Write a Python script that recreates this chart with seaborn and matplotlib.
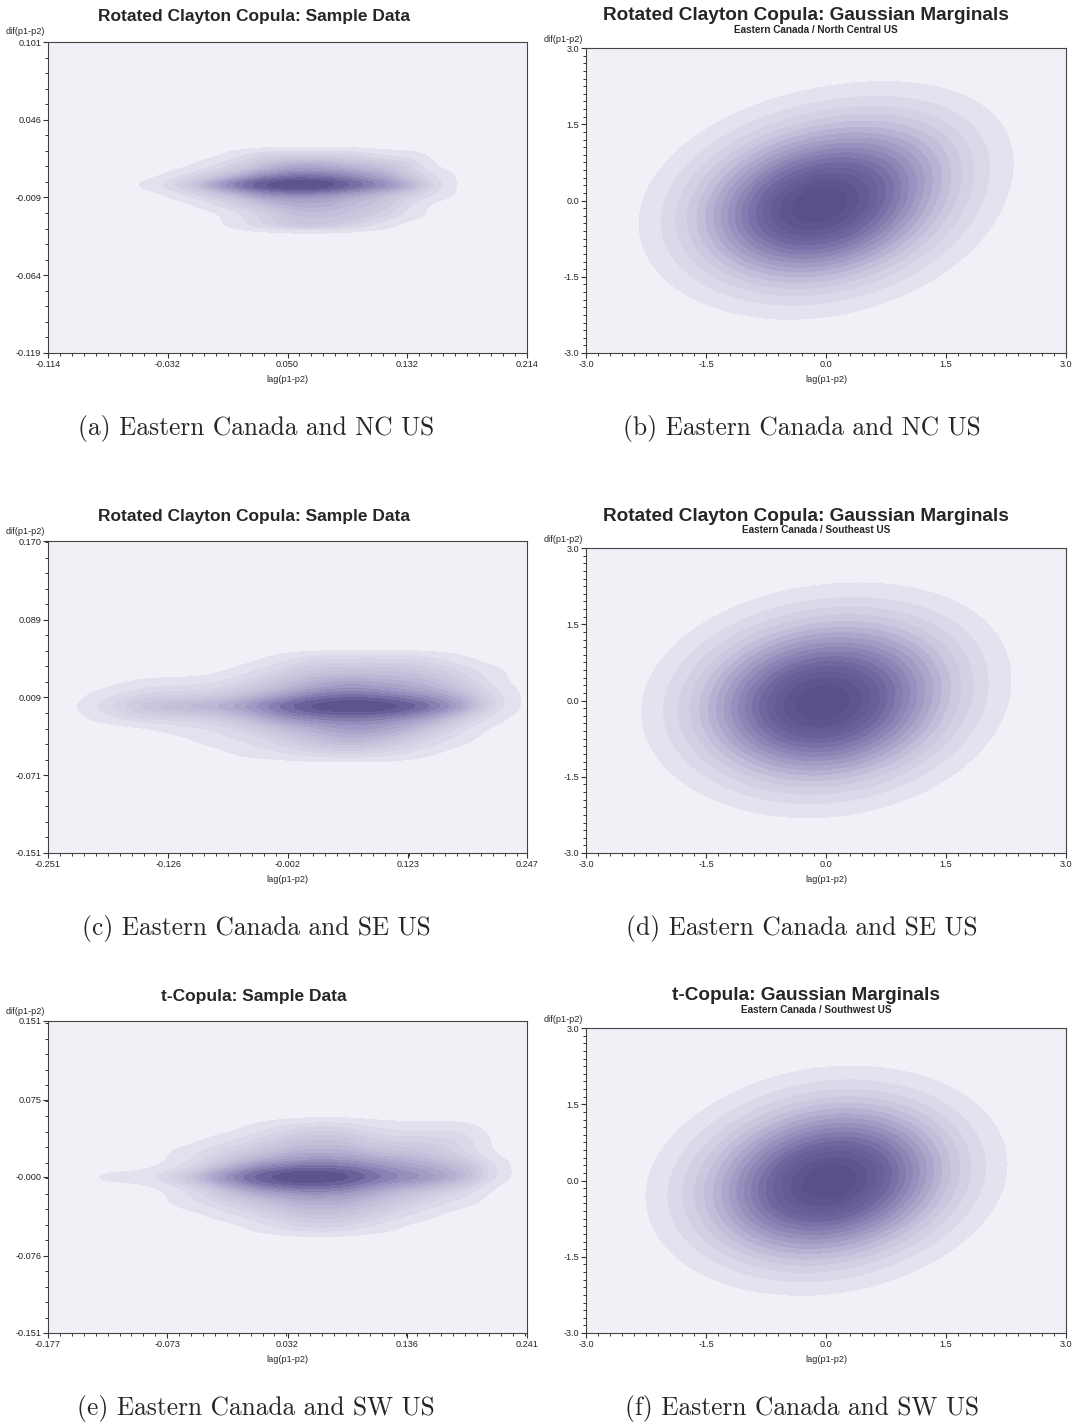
import numpy as np
import pandas as pd
import matplotlib
matplotlib.use("Agg")
import matplotlib.pyplot as plt
import seaborn as sns
from matplotlib.colors import LinearSegmentedColormap
from matplotlib.ticker import AutoMinorLocator

# ---------------- data ----------------
# (a) Rotated Clayton sample data: weighted grid
a_x = [-0.045, -0.025, -0.005, 0.015, 0.035, 0.055, 0.075, 0.095, 0.115, 0.135, 0.155]
a_y = [0.021, 0.014, 0.007, 0.000, -0.007, -0.014, -0.021, -0.028]
a_w = [
    [0, 0, 0, 1, 2, 2, 2, 2, 1, 1, 0],
    [0, 0, 1, 2, 3, 4, 4, 3, 3, 2, 0],
    [0, 1, 2, 3, 5, 6, 6, 5, 4, 2, 1],
    [1, 2, 4, 7, 10, 12, 11, 8, 6, 4, 1],
    [0, 1, 2, 3, 5, 5, 5, 4, 3, 2, 1],
    [0, 0, 1, 2, 3, 4, 4, 3, 3, 1, 0],
    [0, 0, 0, 1, 2, 3, 3, 3, 2, 1, 0],
    [0, 0, 0, 1, 2, 3, 3, 2, 1, 0, 0],
]
a_xticks = ["-0.114", "-0.032", "0.050", "0.132", "0.214"]
a_yticks = ["-0.119", "-0.064", "-0.009", "0.046", "0.101"]

# (c) Rotated Clayton sample data, SE US
c_x = [-0.19, -0.154, -0.118, -0.082, -0.046, -0.01, 0.026, 0.062, 0.098, 0.134, 0.17, 0.206]
c_y = [0.048, 0.036, 0.024, 0.012, 0.000, -0.012, -0.024, -0.036, -0.048]
c_w = [
    [0, 0, 0, 0, 0, 1, 2, 2, 2, 2, 1, 0],
    [0, 0, 0, 0, 1, 2, 3, 3, 3, 3, 2, 1],
    [0, 1, 1, 1, 2, 3, 4, 5, 4, 4, 3, 1],
    [1, 2, 2, 2, 3, 4, 6, 7, 6, 5, 4, 2],
    [2, 3, 4, 4, 5, 8, 11, 13, 12, 9, 6, 2],
    [1, 2, 2, 2, 3, 5, 6, 7, 6, 5, 3, 1],
    [0, 0, 1, 1, 2, 3, 4, 5, 5, 3, 2, 0],
    [0, 0, 0, 1, 1, 2, 3, 4, 3, 2, 1, 0],
    [0, 0, 0, 0, 1, 1, 2, 2, 2, 1, 0, 0],
]
c_xticks = ["-0.251", "-0.126", "-0.002", "0.123", "0.247"]
c_yticks = ["-0.151", "-0.071", "0.009", "0.089", "0.170"]

# (e) t-copula sample data, SW US
e_x = [-0.125, -0.09, -0.056, -0.022, 0.012, 0.046, 0.08, 0.114, 0.148, 0.182, 0.205]
e_y = [0.048, 0.036, 0.024, 0.012, 0.000, -0.012, -0.024, -0.036, -0.048]
e_w = [
    [0, 0, 0, 0, 1, 2, 2, 1, 1, 1, 0],
    [0, 0, 0, 1, 2, 3, 3, 2, 2, 2, 0],
    [0, 0, 1, 2, 3, 4, 4, 3, 3, 2, 0],
    [0, 0, 1, 3, 5, 6, 6, 5, 4, 3, 1],
    [1, 1, 3, 6, 10, 13, 11, 7, 6, 4, 1],
    [0, 0, 1, 3, 5, 6, 6, 4, 3, 2, 0],
    [0, 0, 1, 2, 3, 4, 4, 3, 2, 1, 0],
    [0, 0, 0, 1, 2, 3, 3, 2, 1, 0, 0],
    [0, 0, 0, 0, 1, 2, 2, 1, 0, 0, 0],
]
e_xticks = ["-0.177", "-0.073", "0.032", "0.136", "0.241"]
e_yticks = ["-0.151", "-0.076", "-0.000", "0.075", "0.151"]

# Gaussian-marginal panels: centre point + ring of anchor points with weights
b_x = [-0.1, 1.0, 0.75, 0.0, -0.7, -1.0, -0.7, 0.0, 0.7, 1.35, 0.85]
b_y = [-0.1, 0.0, 0.75, 1.0, 0.7, 0.0, -0.7, -1.0, -0.7, 0.85, 1.35]
b_w = [3.2, 0.7, 1.3, 0.7, 0.65, 1.0, 1.05, 1.0, 0.65, 0.15, 0.15]

d_x = [-0.05, 1.0, 0.75, 0.0, -0.7, -1.0, -0.7, 0.0, 0.7, 1.35, 0.85]
d_y = [-0.05, 0.0, 0.75, 1.0, 0.7, 0.0, -0.7, -1.0, -0.7, 0.85, 1.35]
d_w = [3.2, 0.85, 1.1, 0.85, 0.8, 1.0, 0.95, 1.0, 0.8, 0.1, 0.1]

f_x = [0.05, 1.0, 0.7, 0.0, -0.7, -1.0, -0.7, 0.0, 0.7]
f_y = [-0.03, 0.0, 0.7, 1.0, 0.7, 0.0, -0.7, -1.0, -0.7]
f_w = [3.2, 1.0, 1.25, 1.0, 0.65, 1.0, 1.25, 1.0, 0.65]

g_ticks = ["-3.0", "-1.5", "0.0", "1.5", "3.0"]

titles = ["Rotated Clayton Copula: Sample Data", "Rotated Clayton Copula: Gaussian Marginals",
          "Rotated Clayton Copula: Sample Data", "Rotated Clayton Copula: Gaussian Marginals",
          "t-Copula: Sample Data", "t-Copula: Gaussian Marginals"]
subtitles = ["Eastern Canada / North Central US", "Eastern Canada / Southeast US",
             "Eastern Canada / Southwest US"]
captions = ["(a) Eastern Canada and NC US", "(b) Eastern Canada and NC US",
            "(c) Eastern Canada and SE US", "(d) Eastern Canada and SE US",
            "(e) Eastern Canada and SW US", "(f) Eastern Canada and SW US"]
xlabel = "lag(p1-p2)"
ylabel = "dif(p1-p2)"

# ---------------- style ----------------
sns.set_style("white")
plt.rcParams["font.family"] = ["Liberation Sans", "DejaVu Sans"]

W, H = 1076, 1424
fig = plt.figure(figsize=(W / 100, H / 100), dpi=100)
fig.patch.set_facecolor("white")

cmap = LinearSegmentedColormap.from_list("pur", ["#E7E6F1", "#C7C3DC", "#9A92BF", "#6F649E", "#584C89"])
BG = "#F0F0F6"


def grid_frame(xs, ys, w):
    X, Y = np.meshgrid(xs, ys)
    df = pd.DataFrame({"x": X.ravel(), "y": Y.ravel(), "w": np.asarray(w, float).ravel()})
    return df[df.w > 0]


def point_frame(xs, ys, w):
    return pd.DataFrame({"x": xs, "y": ys, "w": w})


def make_axes(l, t, r, b):
    return fig.add_axes([l / W, 1 - b / H, (r - l) / W, (b - t) / H])


def style_axes(ax, xt, yt, yminor):
    xv = [float(s) for s in xt]
    yv = [float(s) for s in yt]
    ax.set_facecolor(BG)
    ax.set_xlim(xv[0], xv[-1])
    ax.set_ylim(yv[0], yv[-1])
    ax.set_xticks(xv)
    ax.set_xticklabels(xt)
    ax.set_yticks(yv)
    ax.set_yticklabels(yt)
    ax.xaxis.set_minor_locator(AutoMinorLocator(10))
    ax.yaxis.set_minor_locator(AutoMinorLocator(yminor))
    ax.tick_params(which="major", direction="out", length=3.3, width=0.8, color="#333333",
                   labelsize=6.6, pad=1.6, labelcolor="#222222")
    ax.tick_params(which="minor", direction="out", length=2.0, width=0.7, color="#333333")
    ax.tick_params(axis="x", which="both", bottom=True, top=False)
    ax.tick_params(axis="y", which="both", left=True, right=False)
    for s in ax.spines.values():
        s.set_visible(True)
        s.set_color("#444444")
        s.set_linewidth(0.8)
    ax.set_xlabel("")
    ax.set_ylabel("")


def draw(ax, df, bw, levels, thresh):
    sns.kdeplot(data=df, x="x", y="y", weights="w", fill=True, levels=levels, thresh=thresh,
                bw_method=bw, cmap=cmap, gridsize=250, ax=ax)


left = (48, 527)
right = (586, 1066)
rows_left = [(42, 353), (541, 853), (1021, 1333)]
rows_right = [(48, 353), (548, 853), (1028, 1333)]
row_off = [0, 500, 980]

sample_sets = [(a_x, a_y, a_w, a_xticks, a_yticks),
               (c_x, c_y, c_w, c_xticks, c_yticks),
               (e_x, e_y, e_w, e_xticks, e_yticks)]
gauss_sets = [(b_x, b_y, b_w), (d_x, d_y, d_w), (f_x, f_y, f_w)]

for i in range(3):
    # left: sample data
    t, b = rows_left[i]
    ax = make_axes(left[0], t, left[1], b)
    xs, ys, ws, xt, yt = sample_sets[i]
    draw(ax, grid_frame(xs, ys, ws), 0.3, 16, 0.03)
    style_axes(ax, xt, yt, 5)
    fig.text((left[0] - 3) / W, 1 - (t - 10) / H, ylabel, ha="right", va="center", fontsize=6.6)
    fig.text((left[0] + left[1]) / 2 / W, 1 - (b + 27) / H, xlabel, ha="center", va="center", fontsize=6.6)
    fig.text(254 / W, 1 - (16 + row_off[i]) / H, titles[2 * i], ha="center", va="center",
             fontsize=12.5, fontweight="bold")
    fig.text(256 / W, 1 - (428 + row_off[i]) / H, captions[2 * i], ha="center",
             va="center", fontsize=18.3, family="cmr10")

    # right: gaussian marginals
    t, b = rows_right[i]
    ax = make_axes(right[0], t, right[1], b)
    gx, gy, gw = gauss_sets[i]
    draw(ax, point_frame(gx, gy, gw), 1.15, 18, 0.055)
    style_axes(ax, g_ticks, g_ticks, 10)
    fig.text((right[0] - 3) / W, 1 - (t - 9) / H, ylabel, ha="right", va="center", fontsize=6.6)
    fig.text((right[0] + right[1]) / 2 / W, 1 - (b + 27) / H, xlabel, ha="center", va="center", fontsize=6.6)
    fig.text(806 / W, 1 - (16 + row_off[i]) / H, titles[2 * i + 1], ha="center", va="center",
             fontsize=13.7, fontweight="bold")
    fig.text(816 / W, 1 - (30 + row_off[i]) / H, subtitles[i], ha="center", va="center",
             fontsize=7.2, fontweight="bold")
    fig.text(802 / W, 1 - (428 + row_off[i]) / H, captions[2 * i + 1], ha="center",
             va="center", fontsize=18.3, family="cmr10")

fig.savefig("out.png", dpi=100, facecolor="white")
